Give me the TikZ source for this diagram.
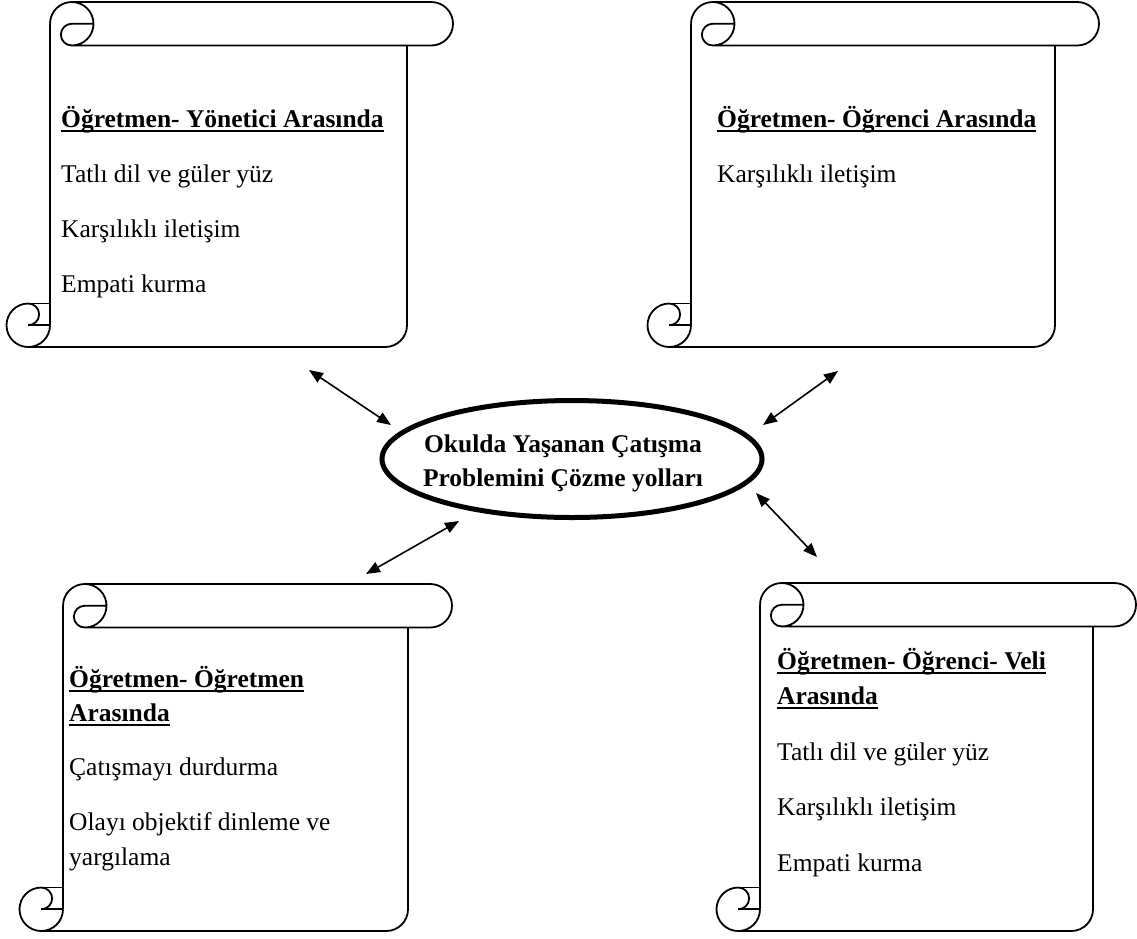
\documentclass[tikz,border=0pt]{standalone}
\usepackage{fontspec}
\setmainfont{Liberation Serif}
\usetikzlibrary{arrows.meta,shapes.geometric}

% underlined heading: rule drawn a little below the baseline
\newsavebox\headbox
\newcommand\ulhead[1]{\sbox\headbox{#1}\rlap{\rule[-5pt]{\wd\headbox}{2pt}}\usebox\headbox}

% radius of the rolled ends
\def\rr{21.75}

% vertical scroll: #1 body left, #2 body right, #3 roll right end, #4 top, #5 bottom
\newcommand\scrollshape[5]{%
  % upper roll with its left curl
  \draw[scrollline] (#1,#4+\rr) arc[start angle=180,end angle=450,radius=\rr]
        -- (#3-\rr,#4+2*\rr) arc[start angle=90,end angle=-90,radius=\rr]
        -- (#1+\rr,#4);
  \draw[scrollline] (#1+2*\rr,#4+\rr) -- (#1+\rr,#4+\rr)
        arc[start angle=270,end angle=90,radius=\rr/2];
  % sheet
  \draw[scrollline] (#1,#4+\rr) -- (#1,#5-\rr);
  \draw[scrollline] (#2,#4+2*\rr) -- (#2,#5-\rr)
        arc[start angle=0,end angle=90,radius=\rr] -- (#1-\rr,#5);
  % lower curl
  \draw[scrollline] (#1-\rr,#5-2*\rr) arc[start angle=270,end angle=0,radius=\rr];
  \draw[scrollline] (#1-\rr,#5-2*\rr) -- (#1,#5-2*\rr);
  \draw[scrollline] (#1-\rr,#5-\rr) -- (#1,#5-\rr);
  \draw[scrollline] (#1-\rr,#5-2*\rr) arc[start angle=-90,end angle=90,radius=\rr/2];
}

\tikzset{
  scrollline/.style={line width=1.8pt, line join=round},
  bodytext/.style={anchor=base west, inner sep=0pt, font=\fontsize{25.5}{30}\selectfont},
  headtext/.style={anchor=base west, inner sep=0pt, font=\fontsize{25.5}{30}\selectfont\bfseries},
  hubtext/.style={anchor=base, inner sep=0pt, font=\fontsize{25.5}{30}\selectfont\bfseries},
  hub/.style={draw, ellipse, line width=5pt, minimum width=380pt, minimum height=117pt, inner sep=0pt},
  link/.style={line width=1.6pt,
    {Triangle[length=14pt,width=11pt]}-{Triangle[length=14pt,width=11pt]}},
}

\begin{document}
\begin{tikzpicture}[x=1pt,y=-1pt]
\useasboundingbox (0,0) rectangle (1137,938);

% the four scrolls
\scrollshape{50}{407}{453}{2}{347}
\scrollshape{691}{1055}{1099}{2}{347}
\scrollshape{63}{408}{452}{584}{931}
\scrollshape{760}{1093}{1136}{583}{931}

% central ellipse
\node[hub] (hub) at (572,459) {};
\node[hubtext] (hubA) at (563,452) {Okulda Yaşanan Çatışma};
\node[hubtext] (hubB) at (563,486) {Problemini Çözme yolları};

% top left scroll text
\node[headtext] (tlH) at (61,127) {\ulhead{Öğretmen- Yönetici Arasında}};
\node[bodytext] (tl1) at (61,182) {Tatlı dil ve güler yüz};
\node[bodytext] (tl2) at (61,237) {Karşılıklı iletişim};
\node[bodytext] (tl3) at (61,292) {Empati kurma};

% top right scroll text
\node[headtext] (trH) at (717,127) {\ulhead{Öğretmen- Öğrenci Arasında}};
\node[bodytext] (tr1) at (717,182) {Karşılıklı iletişim};

% bottom left scroll text
\node[headtext] (blH1) at (69,687) {\ulhead{Öğretmen- Öğretmen}};
\node[headtext] (blH2) at (69,721) {\ulhead{Arasında}};
\node[bodytext] (bl1) at (69,775) {Çatışmayı durdurma};
\node[bodytext] (bl2) at (69,830) {Olayı objektif dinleme ve};
\node[bodytext] (bl3) at (69,865) {yargılama};

% bottom right scroll text
\node[headtext] (brH1) at (777,669) {\ulhead{Öğretmen- Öğrenci- Veli}};
\node[headtext] (brH2) at (777,704) {\ulhead{Arasında}};
\node[bodytext] (br1) at (777,760) {Tatlı dil ve güler yüz};
\node[bodytext] (br2) at (777,815) {Karşılıklı iletişim};
\node[bodytext] (br3) at (777,871) {Empati kurma};

% arrow ends
\coordinate (tlEnd) at (309,370);
\coordinate (hubTL) at (391,425);
\coordinate (trEnd) at (838,371);
\coordinate (hubTR) at (763,425);
\coordinate (brEnd) at (817,557);
\coordinate (hubBR) at (756,493);
\coordinate (blEnd) at (366,574);
\coordinate (hubBL) at (459,521);

\draw[link] (tlEnd) -- (hubTL);
\draw[link] (trEnd) -- (hubTR);
\draw[link] (brEnd) -- (hubBR);
\draw[link] (blEnd) -- (hubBL);
\end{tikzpicture}
\end{document}
